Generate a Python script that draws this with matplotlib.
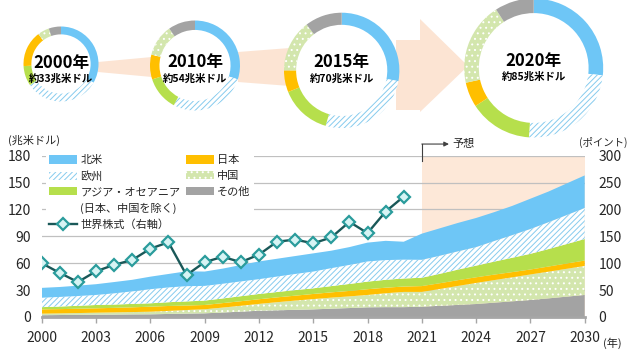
import matplotlib
matplotlib.use("Agg")
import matplotlib.pyplot as plt
import matplotlib.patches as mpatches
from matplotlib.lines import Line2D

plt.rcParams["font.family"] = ["Noto Sans CJK JP", "DejaVu Sans"]
plt.rcParams["hatch.linewidth"] = 0.7

W, H = 640, 354

# ---------------------------------------------------------------------------
# Data (兆米ドル), stacked bottom -> top
# ---------------------------------------------------------------------------
years = list(range(2000, 2031))
other = [2.0, 2.2, 2.4, 2.6, 2.7, 2.9, 3.0, 3.4, 3.8, 4.1, 5.0, 6.0, 7.0, 7.5, 8.0, 8.5,
         9.3, 10.0, 10.8, 11.0, 11.0, 11.5, 12.5, 13.5, 14.5, 16.0, 17.5, 19.0, 20.8, 22.7, 24.6]
china = [1.7, 1.8, 2.0, 2.2, 2.4, 2.6, 2.9, 3.4, 4.0, 4.5, 5.5, 6.5, 7.6, 9.0, 10.3, 11.5,
         12.3, 13.0, 13.8, 15.5, 17.0, 16.5, 18.8, 21.2, 23.5, 25.2, 26.8, 28.5, 29.8, 31.1, 32.4]
japan = [4.8, 4.8, 4.8, 4.9, 5.1, 5.3, 5.6, 5.5, 5.0, 4.8, 5.0, 5.1, 5.2, 5.4, 5.5, 5.7,
         5.9, 6.1, 6.4, 6.2, 6.0, 6.5, 6.4, 6.4, 6.3, 6.1, 5.8, 5.5, 5.7, 5.9, 6.0]
asia = [2.5, 2.9, 3.3, 3.7, 3.7, 3.8, 3.8, 4.2, 4.6, 4.9, 5.2, 5.6, 5.9, 6.0, 6.2, 6.3,
        7.0, 7.8, 8.5, 8.8, 9.0, 9.3, 10.5, 11.8, 13.0, 14.5, 16.0, 17.5, 19.5, 21.7, 24.0]
europe = [10.5, 10.7, 10.9, 11.2, 12.5, 14.0, 15.7, 16.5, 17.0, 16.4, 16.4, 16.5, 16.5, 17.2, 18.0, 18.7,
          20.0, 21.2, 22.5, 22.0, 21.0, 20.0, 20.2, 20.4, 20.7, 23.0, 25.3, 27.7, 30.0, 32.3, 34.7]
north_america = [11.0, 11.1, 11.6, 12.0, 12.6, 12.9, 14.0, 15.0, 16.6, 16.0, 16.9, 18.3, 19.8, 19.9, 20.0, 20.3,
                 19.5, 19.9, 21.0, 21.5, 20.0, 29.2, 30.6, 31.7, 32.5, 32.2, 32.6, 33.8, 34.2, 35.3, 36.3]

stock_years = list(range(2000, 2021))
world_stock = [100, 82, 65, 85, 97, 106, 127, 139, 78, 102, 112, 102, 116, 140, 144, 137,
               148, 177, 156, 196, 224]

# donut shares, clockwise from 12 o'clock: 北米, 欧州, アジア, 日本, 中国, その他
donut_titles = ["2000年", "2010年", "2015年", "2020年"]
donut_totals = ["約33兆米ドル", "約54兆米ドル", "約70兆米ドル", "約85兆米ドル"]
share_2000 = [33.3, 32.2, 8.6, 15.6, 5.0, 5.3]
share_2010 = [30.0, 27.8, 12.2, 8.9, 11.4, 9.7]
share_2015 = [28.0, 26.5, 14.4, 6.1, 14.6, 10.4]
share_2020 = [26.7, 24.4, 14.7, 5.8, 19.3, 9.1]

# ---------------------------------------------------------------------------
# Style
# ---------------------------------------------------------------------------
C_NA = "#6ec6f6"
C_EU_HATCH = "#86cbee"
C_ASIA = "#b6df4c"
C_JP = "#ffbf00"
C_CN = "#d3e6ad"
C_OT = "#a3a3a3"
C_PEACH = "#fde8d8"
C_TEXT = "#262626"
C_GRID = "#c0c0c0"

fig = plt.figure(figsize=(W / 100, H / 100), dpi=100)
fig.patch.set_facecolor("white")

# main axes (pixel box: x 41.7..584.7, y 155.7..317)
ax = fig.add_axes([41.7 / W, 37 / H, 543 / W, 161.3 / H])
ax.set_xlim(2000, 2030)
ax.set_ylim(0, 180)

ax.axvspan(2021, 2030, color=C_PEACH, lw=0, zorder=0.2)

polys = ax.stackplot(
    years, other, china, japan, asia, europe, north_america,
    colors=[C_OT, C_CN, C_JP, C_ASIA, "white", C_NA],
    hatch=["", "...", "", "", "//////", ""],
    linewidth=0, zorder=2,
)
for p, ec in zip(polys, [C_OT, "white", C_JP, C_ASIA, C_EU_HATCH, C_NA]):
    p.set_edgecolor(ec)
    p.set_linewidth(0)

ax.set_yticks(range(0, 181, 30))
ax.set_xticks(range(2000, 2031, 3))
ax.grid(axis="y", color=C_GRID, lw=0.9)
ax.set_axisbelow(True)
for s in ["top", "left", "right"]:
    ax.spines[s].set_visible(False)
ax.spines["bottom"].set_color("#a6a6a6")
ax.spines["bottom"].set_linewidth(2)
ax.spines["bottom"].set_zorder(3)
ax.tick_params(axis="y", length=0, pad=8, labelsize=10, labelcolor=C_TEXT)
ax.tick_params(axis="x", length=4, width=1, color="#a6a6a6", pad=6, labelsize=10, labelcolor=C_TEXT)

ax2 = ax.twinx()
ax2.set_ylim(0, 300)
ax2.set_yticks(range(0, 301, 50))
for s in ["top", "left", "right", "bottom"]:
    ax2.spines[s].set_visible(False)
ax2.tick_params(axis="y", length=0, pad=10, labelsize=10, labelcolor=C_TEXT)
ax2.plot(stock_years, world_stock, color="#1a5858", lw=1.7, marker="D", ms=6.5,
         mfc="#d6f4f4", mec="#2a9c9c", mew=1.6, zorder=5)

# forecast marker
ax.plot([2021, 2021], [174, 193], color="#404040", lw=0.8, clip_on=False, zorder=6)
ax.annotate("", xy=(2022.5, 193), xytext=(2021, 193), annotation_clip=False,
            arrowprops=dict(arrowstyle="-|>", color="#404040", lw=0.8,
                            mutation_scale=7, shrinkA=0, shrinkB=0))
ax.text(2022.7, 193, "予想", fontsize=8, color=C_TEXT, va="center", ha="left", clip_on=False)

# legend
blank = mpatches.Patch(facecolor="none", edgecolor="none")
handles = [
    mpatches.Patch(facecolor=C_NA, lw=0),
    mpatches.Patch(facecolor="white", edgecolor=C_EU_HATCH, hatch="//////", lw=0),
    mpatches.Patch(facecolor=C_ASIA, lw=0),
    blank,
    Line2D([], [], color="#1a5858", lw=1.7, marker="D", ms=6.5, mfc="#d6f4f4", mec="#2a9c9c", mew=1.6),
    mpatches.Patch(facecolor=C_JP, lw=0),
    mpatches.Patch(facecolor=C_CN, edgecolor="white", hatch="...", lw=0),
    mpatches.Patch(facecolor=C_OT, lw=0),
    blank, blank,
]
labels = ["北米", "欧州", "アジア・オセアニア", "(日本、中国を除く)", "世界株式（右軸）",
          "日本", "中国", "その他", "", ""]
leg = ax2.legend(handles, labels, ncol=2, loc="upper left",
                 bbox_to_anchor=(46 / W, 1 - 152 / H), bbox_transform=fig.transFigure,
                 fontsize=8, frameon=True, facecolor="white", edgecolor="none", framealpha=1,
                 fancybox=False, handlelength=2.5, handleheight=0.75, handletextpad=0.3,
                 labelspacing=0.5, columnspacing=0.5, borderpad=0.3, borderaxespad=0)
for t in leg.get_texts():
    t.set_color(C_TEXT)

fig.text(8 / W, 1 - 140 / H, "(兆米ドル)", fontsize=8, color=C_TEXT, va="center", ha="left")
fig.text(627 / W, 1 - 142 / H, "(ポイント)", fontsize=7.5, color=C_TEXT, va="center", ha="right")
fig.text(603 / W, 1 - 343 / H, "(年)", fontsize=8, color=C_TEXT, va="center", ha="left")

# ---------------------------------------------------------------------------
# Donuts on an overlay in pixel coordinates
# ---------------------------------------------------------------------------
ov = fig.add_axes([0, 0, 1, 1])
ov.patch.set_visible(False)

# connectors
ov.fill([98, 152, 152, 98], [H - 62, H - 57, H - 77, H - 72], color="#fce4d3", lw=0, zorder=0)
ov.fill([238, 290, 290, 238], [H - 52, H - 48, H - 86, H - 82], color="#fce4d3", lw=0, zorder=0)
ov.fill([396, 420, 420, 468, 420, 420, 396],
        [H - 40, H - 40, H - 19, H - 66, H - 112, H - 110, H - 110],
        color="#fce4d3", lw=0, zorder=0)

donut_colors = [C_NA, "white", C_ASIA, C_JP, C_CN, C_OT]
donut_hatch = ["", "//////", "", "", "...", ""]
donut_edges = [C_NA, C_EU_HATCH, C_ASIA, C_JP, "white", C_OT]
donut_geom = [(61, 64, 37.5), (195, 65.5, 45), (341.7, 70.4, 57.7), (533.7, 68, 69.5)]
title_dy = [-1, -3, -8, -7]
for shares, title, total, (cx, cy, r), dy in zip(
        [share_2000, share_2010, share_2015, share_2020], donut_titles, donut_totals, donut_geom, title_dy):
    wedges, _ = ov.pie(shares, colors=donut_colors, hatch=donut_hatch, radius=r,
                       center=(cx, H - cy), startangle=90, counterclock=False,
                       wedgeprops=dict(width=0.21 * r, linewidth=0), frame=False)
    for w, ec in zip(wedges, donut_edges):
        w.set_edgecolor(ec)
        w.set_linewidth(0)
    ov.text(cx, H - (cy + dy), title, fontsize=12, fontweight="bold", color="black",
            ha="center", va="center", zorder=5)
    ov.text(cx, H - (cy + dy + 16), total, fontsize=7.5, fontweight="bold", color="black",
            ha="center", va="center", zorder=5)

ov.set_aspect("auto")
ov.set_xlim(0, W)
ov.set_ylim(0, H)
ov.axis("off")

fig.savefig("out.png", dpi=100, facecolor="white")
